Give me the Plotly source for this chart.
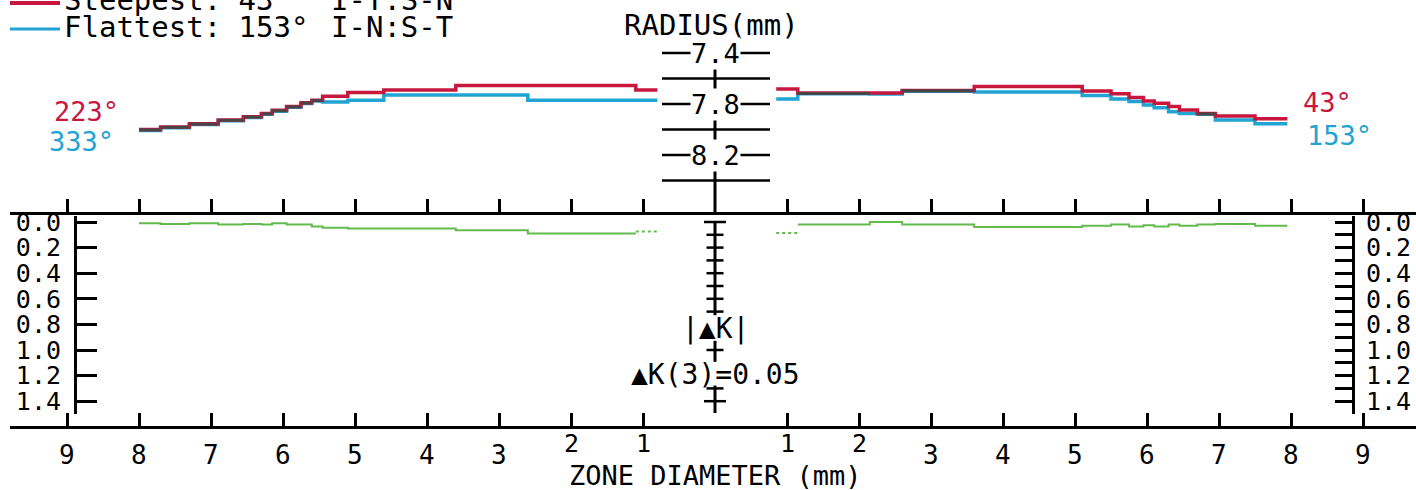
import numpy as np
import plotly.graph_objects as go

# ---------------- data ----------------
ZONE_TICKS = [1, 2, 3, 4, 5, 6, 7, 8, 9]          # zone diameter ticks (mm), both sides
RADIUS_TICKS = [7.4, 7.6, 7.8, 8.0, 8.2, 8.4]
RADIUS_LABELS = [7.4, 7.8, 8.2]
DK_TICKS = [0.0, 0.2, 0.4, 0.6, 0.8, 1.0, 1.2, 1.4]

# left half: semimeridians 223 deg (steepest) / 333 deg (flattest); zone boundaries outer -> inner
LEFT_ZONES = [8.0, 7.7, 7.3, 6.9, 6.55, 6.3, 6.15, 5.95, 5.75, 5.6, 5.45, 5.1, 4.6, 3.6, 2.6, 1.1, 0.8]
STEEP_223 = [8.00, 7.98, 7.955, 7.925, 7.90, 7.875, 7.85, 7.82, 7.79, 7.77, 7.74, 7.71, 7.69, 7.655, 7.655, 7.69]
FLAT_333 = [8.007, 7.986, 7.961, 7.931, 7.906, 7.881, 7.856, 7.826, 7.796, 7.776, 7.784, 7.77, 7.73, 7.73, 7.77, 7.77]
DK_LEFT = [0.01, 0.015, 0.01, 0.02, 0.015, 0.02, 0.01, 0.02, 0.02, 0.035, 0.045, 0.05, 0.05, 0.065, 0.09, 0.075]

# right half: semimeridians 43 deg (steepest) / 153 deg (flattest); zone boundaries inner -> outer
RIGHT_ZONES = [0.85, 1.15, 2.15, 2.6, 3.6, 5.1, 5.5, 5.75, 5.95, 6.1, 6.3, 6.45, 6.7, 6.95, 7.5, 7.95]
STEEP_43 = [7.682, 7.714, 7.714, 7.694, 7.663, 7.698, 7.72, 7.75, 7.776, 7.795, 7.82, 7.847, 7.875, 7.894, 7.915]
FLAT_153 = [7.76, 7.72, 7.722, 7.70, 7.706, 7.734, 7.76, 7.78, 7.808, 7.83, 7.86, 7.875, 7.88, 7.925, 7.954]
DK_RIGHT = [0.085, 0.02, 0.0, 0.02, 0.04, 0.03, 0.02, 0.035, 0.025, 0.035, 0.02, 0.03, 0.02, 0.015, 0.03]

# ---------------- styling / geometry ----------------
W, H = 1416, 490
RED = "#c8173f"
CYAN = "#21a3d3"
DARK = "#4b4446"
GREEN = "#63bb4c"
FONT = "DejaVu Sans Mono"

CX, PPM = 715.0, 72.0            # centre pixel and pixels per mm of zone diameter
def s_of(px):
    return (px - CX) / PPM

def r_of(py):                      # radius value at pixel row
    return 7.4 + (py - 53.0) / 127.5

def dk_of(py):                     # delta-K value at pixel row
    return (py - 222.0) / 128.0

def pxx(px):
    return px / W

def pxy(py):
    return 1 - py / H

fig = go.Figure()

def steps(bounds, vals, sign):
    x = [sign * b for b in bounds]
    y = list(vals) + [vals[-1]]
    return x, y

def overlap_segments(bounds, a, b, sign, tol=0.0075):
    xs, ys = [], []
    for i in range(len(a)):
        if abs(a[i] - b[i]) <= tol:
            m = (a[i] + b[i]) / 2
            xs += [sign * bounds[i], sign * bounds[i + 1], None]
            ys += [m, m, None]
    return xs, ys

for bounds, steep, flat, sign in [(LEFT_ZONES, STEEP_223, FLAT_333, -1),
                                  (RIGHT_ZONES, STEEP_43, FLAT_153, 1)]:
    x, y = steps(bounds, flat, sign)
    fig.add_trace(go.Scatter(x=x, y=y, mode="lines", line=dict(color=CYAN, width=3.5, shape="hv"),
                             xaxis="x", yaxis="y", showlegend=False, hoverinfo="skip"))
    x, y = steps(bounds, steep, sign)
    fig.add_trace(go.Scatter(x=x, y=y, mode="lines", line=dict(color=RED, width=3.5, shape="hv"),
                             xaxis="x", yaxis="y", showlegend=False, hoverinfo="skip"))
    ox, oy = overlap_segments(bounds, steep, flat, sign)
    fig.add_trace(go.Scatter(x=ox, y=oy, mode="lines", line=dict(color=DARK, width=3),
                             xaxis="x", yaxis="y", showlegend=False, hoverinfo="skip"))

# delta K (green): innermost zone dotted
xl, yl = steps(LEFT_ZONES[:-1], DK_LEFT[:-1], -1)
fig.add_trace(go.Scatter(x=xl, y=yl, mode="lines", line=dict(color=GREEN, width=2, shape="hv"),
                         xaxis="x", yaxis="y2", showlegend=False, hoverinfo="skip"))
fig.add_trace(go.Scatter(x=[-LEFT_ZONES[-2], -LEFT_ZONES[-1]], y=[DK_LEFT[-1]] * 2, mode="lines",
                         line=dict(color=GREEN, width=2, dash="dot"),
                         xaxis="x", yaxis="y2", showlegend=False, hoverinfo="skip"))
xr, yr = steps(RIGHT_ZONES[1:], DK_RIGHT[1:], 1)
fig.add_trace(go.Scatter(x=xr, y=yr, mode="lines", line=dict(color=GREEN, width=2, shape="hv"),
                         xaxis="x", yaxis="y2", showlegend=False, hoverinfo="skip"))
fig.add_trace(go.Scatter(x=[RIGHT_ZONES[0], RIGHT_ZONES[1]], y=[DK_RIGHT[0]] * 2, mode="lines",
                         line=dict(color=GREEN, width=2, dash="dot"),
                         xaxis="x", yaxis="y2", showlegend=False, hoverinfo="skip"))

# empty traces so that the extra axes are drawn
fig.add_trace(go.Scatter(x=[], y=[], xaxis="x", yaxis="y3", showlegend=False))
fig.add_trace(go.Scatter(x=[], y=[], xaxis="x2", yaxis="y", showlegend=False))

xt_vals = [-v for v in ZONE_TICKS[::-1]] + ZONE_TICKS
xrange = [s_of(10), s_of(W)]
dk_range = [dk_of(414), dk_of(216)]

fig.update_layout(
    template="none",
    width=W, height=H, margin=dict(l=0, r=0, t=0, b=0, pad=0), autosize=False,
    paper_bgcolor="white", plot_bgcolor="white", showlegend=False,
    font=dict(family=FONT, color="black"),
    xaxis=dict(domain=[10 / W, 1], range=xrange, anchor="free", position=pxy(427), automargin=False,
               showline=True, linewidth=3, linecolor="black", ticks="inside", ticklen=13,
               tickwidth=3, tickcolor="black", tickvals=xt_vals, showticklabels=False,
               showgrid=False, zeroline=False),
    xaxis2=dict(overlaying="x", range=xrange, anchor="free", position=pxy(213), side="bottom",
                automargin=False,
                showline=True, linewidth=3, linecolor="black", ticks="inside", ticklen=13,
                tickwidth=3, tickcolor="black", tickvals=xt_vals, showticklabels=False,
                showgrid=False, zeroline=False),
    yaxis=dict(domain=[pxy(213), 1], range=[r_of(213), r_of(0)], visible=False, automargin=False,
               anchor="free", position=0, showgrid=False, zeroline=False),
    yaxis2=dict(domain=[pxy(414), pxy(216)], range=dk_range, anchor="free", position=pxx(75),
                automargin=False,
                side="left", showline=True, linewidth=3, linecolor="black", ticks="inside",
                ticklen=20, tickwidth=3, tickcolor="black", tickvals=DK_TICKS,
                ticktext=[f"{v:.1f}" for v in DK_TICKS],
                tickfont=dict(size=25, family=FONT, color="black"), ticklabelstandoff=8,
                showgrid=False, zeroline=False),
    yaxis3=dict(overlaying="y2", range=dk_range, anchor="free", position=pxx(1353), side="right",
                automargin=False,
                showline=True, linewidth=3, linecolor="black", ticks="inside", ticklen=17,
                tickwidth=2.5, tickcolor="black", tickvals=DK_TICKS,
                ticktext=[f"{v:.1f}" for v in DK_TICKS],
                minor=dict(tickvals=[round(v + 0.1, 1) for v in DK_TICKS[:-1]], ticks="inside",
                           ticklen=17, tickwidth=2.5, tickcolor="black"),
                tickfont=dict(size=25, family=FONT, color="black"), ticklabelstandoff=6,
                showgrid=False, zeroline=False),
)

shapes = []
# legend swatches
shapes.append(dict(type="line", xref="paper", yref="paper", x0=pxx(10), x1=pxx(60),
                   y0=pxy(3), y1=pxy(3), line=dict(color=RED, width=4)))
shapes.append(dict(type="line", xref="paper", yref="paper", x0=pxx(10), x1=pxx(60),
                   y0=pxy(29), y1=pxy(29), line=dict(color=CYAN, width=3)))
# centre radius scale
shapes.append(dict(type="line", xref="x", yref="y", x0=0, x1=0, y0=RADIUS_TICKS[0], y1=r_of(213),
                   line=dict(color="black", width=3)))
for v in RADIUS_TICKS:
    shapes.append(dict(type="line", xref="x", yref="y", x0=s_of(662), x1=s_of(770), y0=v, y1=v,
                       line=dict(color="black", width=2.5)))

# centre delta-K scale, interrupted by the two captions
TXT1_DK, TXT2_DK = dk_of(328), dk_of(374)
gaps = [(TXT1_DK - 0.1, TXT1_DK + 0.1), (TXT2_DK - 0.095, TXT2_DK + 0.09)]
seg_edges = [DK_TICKS[0]] + [g for pair in gaps for g in pair] + [dk_of(413)]
for i in range(0, len(seg_edges), 2):
    shapes.append(dict(type="line", xref="x", yref="y2", x0=0, x1=0, y0=seg_edges[i], y1=seg_edges[i + 1],
                       line=dict(color="black", width=3)))
dk_minor = np.round(np.arange(DK_TICKS[0], DK_TICKS[-1] + 0.05, 0.1), 1)
for v in dk_minor:
    if any(lo - 0.01 < v < hi + 0.01 for lo, hi in gaps):
        continue
    half = 11 if v in (DK_TICKS[0], DK_TICKS[-1]) else 8.5
    shapes.append(dict(type="line", xref="x", yref="y2", x0=-half / PPM, x1=half / PPM, y0=v, y1=v,
                       line=dict(color="black", width=2.5)))
fig.update_layout(shapes=shapes)

ann = []
def text(x, y, t, size=28, color="black", xanchor="center", bg=None, xref="paper", yref="paper"):
    d = dict(x=x, y=y, xref=xref, yref=yref, text=t, showarrow=False, xanchor=xanchor,
             yanchor="middle", font=dict(family=FONT, size=size, color=color), borderpad=0)
    if bg:
        d["bgcolor"] = bg
    ann.append(d)

text(pxx(63), pxy(0), "Steepest: 43°", 29, xanchor="left")
text(pxx(330), pxy(0), "I-T:S-N", 29, xanchor="left")
text(pxx(63), pxy(27), "Flattest: 153°", 29, xanchor="left")
text(pxx(330), pxy(27), "I-N:S-T", 29, xanchor="left")
text(pxx(711), pxy(25), "RADIUS(mm)", 29)
text(pxx(86), pxy(112), "223°", 27, RED)
text(pxx(81), pxy(141), "333°", 27, CYAN)
text(pxx(1327), pxy(103), "43°", 27, RED)
text(pxx(1339), pxy(135), "153°", 27, CYAN)
for v in RADIUS_LABELS:
    text(0, v, f"{v:.1f}", 27, bg="white", xref="x", yref="y")
text(0, TXT1_DK, "|▲K|", 28, xref="x", yref="y2")
text(0, TXT2_DK, "▲K(3)=0.05", 28, xref="x", yref="y2")
# zone-diameter tick labels (inner ones sit a little higher, above the axis title)
for v in xt_vals:
    row = 443 if abs(v) <= 2 else 455
    text(v, pxy(row), str(abs(v)), 25 if abs(v) <= 2 else 26, xref="x")
text(pxx(716), pxy(475), "ZONE DIAMETER (mm)", 27)
fig.update_layout(annotations=ann)

fig.write_html("out.html")
